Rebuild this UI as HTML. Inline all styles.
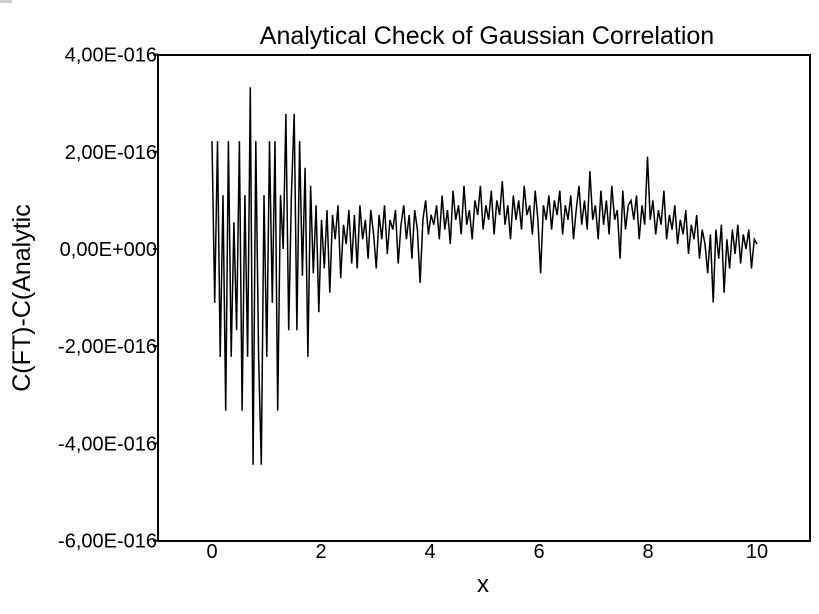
<!DOCTYPE html>
<html><head><meta charset="utf-8"><style>
body{margin:0;background:#fff;}
svg text{font-family:"Liberation Sans",Arial,sans-serif;fill:#000;}
</style></head><body>
<svg width="819" height="609" viewBox="0 0 819 609" xmlns="http://www.w3.org/2000/svg">
<rect x="0" y="0" width="12" height="3" fill="#ccc"/>
<text x="487" y="44" font-size="25" text-anchor="middle">Analytical Check of Gaussian Correlation</text>
<text transform="translate(30,298) rotate(-90)" font-size="25" text-anchor="middle">C(FT)-C(Analytic</text>
<text x="483" y="592" font-size="24" text-anchor="middle">x</text>
<g id="axes"></g>
<g id="series"></g>
<rect x="158" y="55" width="652" height="486" fill="none" stroke="#000" stroke-width="2"/>
</svg>
<script>
const yTicks=[4,2,0,-2,-4,-6];
const yTickLabels=["4,00E-016","2,00E-016","0,00E+000","-2,00E-016","-4,00E-016","-6,00E-016"];
const xTicks=[0,2,4,6,8,10];
const xTickLabels=["0","2","4","6","8","10"];
const values=[2.22,-1.11,2.22,-2.22,1.11,-3.33,2.22,-2.22,0.55,-1.67,2.22,-3.33,1.11,-2.22,3.33,-4.44,2.22,-2.22,-4.44,1.11,-2.22,2.22,-1.11,2.22,-3.33,1.11,0,2.78,-1.67,1.11,2.78,-1.67,2.22,-0.55,1.67,-2.22,
1.3,-0.5,0.9,-1.3,0.6,-0.4,0.8,-0.9,0.7,0.2,
0.9,-0.6,0.5,0.1,0.8,-0.3,0.7,-0.4,0.9,0.2,0.6,-0.2,0.8,0.3,-0.4,0.7,0.2,0.9,-0.1,0.6,0.4,0.8,-0.3,0.5,0.9,0.2,0.7,-0.2,0.8,0.4,-0.7,0.6,1.0,0.3,0.7,
0.5,0.9,0.2,1.1,0.4,0.8,0.1,1.2,0.6,0.9,0.3,1.3,0.5,0.8,0.2,1.0,0.7,1.3,0.4,0.9,0.6,1.2,0.3,1.0,0.7,1.4,0.5,0.9,0.2,1.1,0.6,1.0,0.4,1.3,0.7,0.9,0.3,1.2,0.6,
-0.5,0.9,0.6,1.1,0.4,1.0,0.7,1.2,0.3,0.9,0.6,1.1,0.2,0.8,1.3,0.5,1.0,0.4,1.6,0.6,0.9,0.2,1.2,0.5,1.0,0.3,1.3,0.6,0.8,-0.2,1.2,0.4,0.9,1.0,0.6,1.1,0.2,0.9,0.5,1.9,
0.6,1.0,0.3,0.8,0.5,1.2,0.2,0.7,0.4,0.9,0.1,0.6,0.3,0.8,-0.1,0.5,0.2,0.7,-0.2,0.4,0.1,-0.5,0.3,-1.1,0.4,-0.2,0.5,-0.9,0.2,-0.4,0.4,-0.1,0.5,-0.3,0.3,0.0,0.4,-0.4,0.2,0.1];
const xMin=0,xMax=10;
const NS="http://www.w3.org/2000/svg";
function xs(v){return 212+(v-0)*54.5;}
function ys(v){return 249-v*48.6;}
const axes=document.getElementById('axes');
yTicks.forEach((t,i)=>{
  const l=document.createElementNS(NS,'line');
  l.setAttribute('x1',153);l.setAttribute('x2',158);l.setAttribute('y1',ys(t));l.setAttribute('y2',ys(t));l.setAttribute('stroke','#000');l.setAttribute('stroke-width','2');
  
  
  axes.appendChild(l);
  const tx=document.createElementNS(NS,'text');
  tx.setAttribute('x',157);tx.setAttribute('y',ys(t)+7);tx.setAttribute('font-size','20');tx.setAttribute('text-anchor','end');
  tx.textContent=yTickLabels[i];
  
  
  axes.appendChild(tx);
});
xTicks.forEach((t,i)=>{
  const tx=document.createElementNS(NS,'text');
  tx.setAttribute('x',xs(t));tx.setAttribute('y',558);tx.setAttribute('font-size','20');tx.setAttribute('text-anchor','middle');
  tx.textContent=xTickLabels[i];
  
  
  axes.appendChild(tx);
});
const n=values.length;
const pts=values.map((v,i)=>xs(xMin+(xMax-xMin)*i/(n-1)).toFixed(1)+','+ys(v).toFixed(1)).join(' ');
const pl=document.createElementNS(NS,'polyline');
pl.setAttribute('points',pts);pl.setAttribute('fill','none');pl.setAttribute('stroke','#000');pl.setAttribute('stroke-width','1.5');


document.getElementById('series').appendChild(pl);
</script>
</body></html>
